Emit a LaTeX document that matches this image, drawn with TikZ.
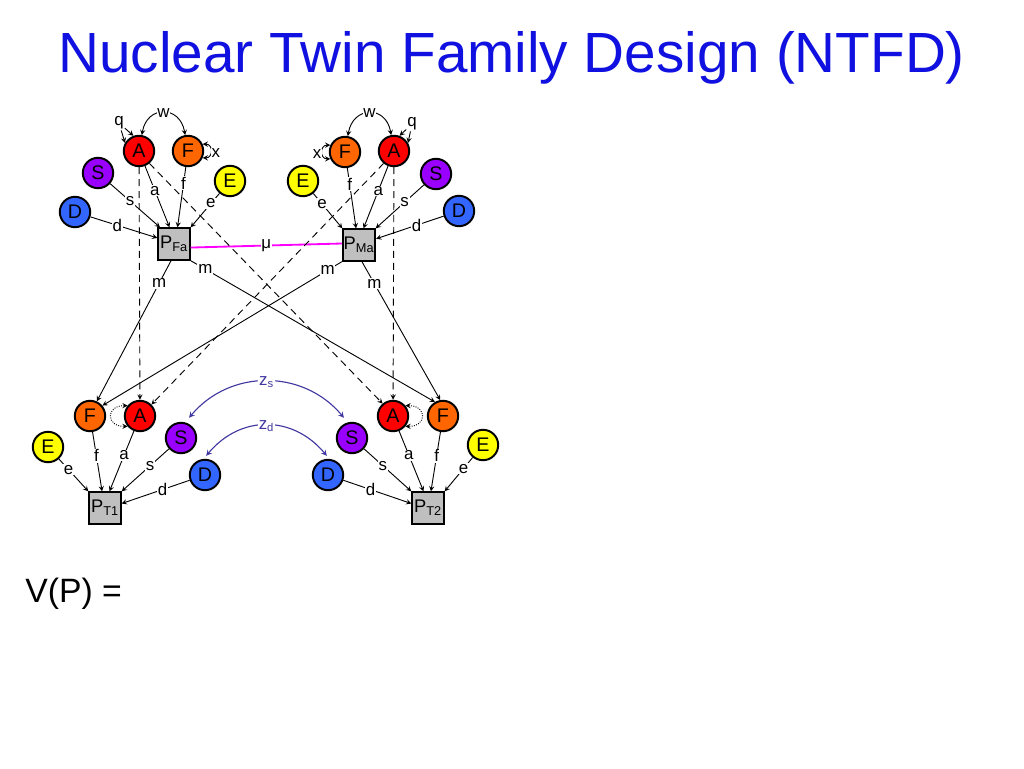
\documentclass[tikz,border=0pt]{standalone}
\usepackage{fontspec}
\setmainfont{Liberation Sans}
\usetikzlibrary{calc,positioning}
\definecolor{aclr}{RGB}{255,0,0}
\definecolor{fclr}{RGB}{255,102,0}
\definecolor{sclr}{RGB}{153,0,255}
\definecolor{eclr}{RGB}{255,255,0}
\definecolor{dclr}{RGB}{51,102,255}
\definecolor{zclr}{RGB}{64,56,160}
\definecolor{muclr}{RGB}{255,0,255}
\definecolor{titleclr}{RGB}{16,16,224}
\tikzset{factor/.style={%
        circle,
        minimum size=7.6mm,inner sep=0pt,
        line width=1.4pt,
        font=\fontsize{14}{16}\selectfont,
        draw}}
\tikzset{pheno/.style={%
        rectangle,
        minimum size=7.8mm,inner sep=0.5pt,
        line width=1.5pt,
        fill=black!25,
        font=\fontsize{13}{15}\selectfont,
        draw}}
\tikzset{link/.style={line width=0.65pt,>=stealth}}
\tikzset{shared/.style={link,dash pattern=on 5pt off 3.5pt}}
\tikzset{lbl/.style={fill=white,inner sep=0.6pt,text=black,font=\fontsize{12}{14}\selectfont}}
\tikzset{zlink/.style={line width=0.8pt,zclr,>=stealth}}

\begin{document}
\begin{tikzpicture}[x=0.25mm,y=0.25mm]
  \useasboundingbox (0,0) rectangle (1024,-768);
  \node [anchor=base west,inner sep=0pt,text=titleclr,font=\fontsize{40.3}{46}\selectfont] (title) at (58,-72) {Nuclear Twin Family Design (NTFD)};
  % father
  \node [factor,fill=aclr] (AF) at (139,-151) {A};
  \node [factor,fill=fclr] (FF) at (188,-151) {F};
  \node [factor,fill=sclr] (SF) at (98,-173) {S};
  \node [factor,fill=eclr] (EF) at (230,-181) {E};
  \node [factor,fill=dclr] (DF) at (75,-212) {D};
  \node [pheno] (PFa) at (174,-244) {P\textsubscript{Fa}};
  % mother
  \node [factor,fill=fclr] (FM) at (345,-152) {F};
  \node [factor,fill=aclr] (AM) at (394,-151) {A};
  \node [factor,fill=eclr] (EM) at (303,-181) {E};
  \node [factor,fill=sclr] (SM) at (436,-174) {S};
  \node [factor,fill=dclr] (DM) at (459,-211) {D};
  \node [pheno] (PMa) at (359,-245) {P\textsubscript{Ma}};
  % twin 1
  \node [factor,fill=fclr] (F1) at (90,-416) {F};
  \node [factor,fill=aclr] (A1) at (140,-416) {A};
  \node [factor,fill=eclr] (E1) at (48,-447) {E};
  \node [factor,fill=sclr] (S1) at (181,-438) {S};
  \node [factor,fill=dclr] (D1) at (205,-475) {D};
  \node [pheno] (PT1) at (105,-508) {P\textsubscript{T1}};
  % twin 2
  \node [factor,fill=aclr] (A2) at (393,-416) {A};
  \node [factor,fill=fclr] (F2) at (443,-416) {F};
  \node [factor,fill=eclr] (E2) at (483,-445) {E};
  \node [factor,fill=sclr] (S2) at (352,-438) {S};
  \node [factor,fill=dclr] (D2) at (328,-475) {D};
  \node [pheno] (PT2) at (428,-508) {P\textsubscript{T2}};
  \node [lbl] (qF) at (119,-123) {q};
  \node [lbl] (qM) at (412,-124) {q};
  \node [anchor=base west,inner sep=0pt,font=\fontsize{24}{28}\selectfont] (vp) at (25,-602) {V(P) =};

  \draw [link,->] (qF) -- (AF.110);
  \draw [link,->] (qF) -- (AF.150);
  \draw [link,->] (qM) -- (AM.70);
  \draw [link,->] (qM) -- (AM.30);
  \draw [link,<->] (AF.80) to [out=80,in=100,looseness=1.8] node [lbl] {w} (FF.100);
  \draw [link,<->] (FM.80) to [out=80,in=100,looseness=1.8] node [lbl] {w} (AM.100);
  \draw [link,<->] (FF.25) to [out=0,in=0,looseness=2] node [lbl,anchor=west,pos=0.6] {x} (FF.-25);
  \draw [link,<->] (FM.155) to [out=180,in=180,looseness=2] node [lbl,anchor=east,pos=0.6] {x} (FM.205);
  \draw [link,<->,densely dotted] (A1.140) to [out=180,in=180,looseness=2.7] (A1.220);
  \draw [link,<->,densely dotted] (A2.40) to [out=0,in=0,looseness=2.7] (A2.-40);

  \draw [link,->] (DF) -- node [lbl,pos=0.4] {d} (PFa.160);
  \draw [link,->] (SF) -- node [lbl,pos=0.4] {s} (PFa.130);
  \draw [link,->] (AF) -- node [lbl,pos=0.4] {a} (PFa.105);
  \draw [link,->] (FF) -- node [lbl,pos=0.27] {f} (PFa.78);
  \draw [link,->] (EF) -- node [lbl,pos=0.3] {e} (PFa.45);

  \draw [link,->] (DM) -- node [lbl,pos=0.4] {d} (PMa.20);
  \draw [link,->] (SM) -- node [lbl,pos=0.4] {s} (PMa.45);
  \draw [link,->] (AM) -- node [lbl,pos=0.4] {a} (PMa.75);
  \draw [link,->] (FM) -- node [lbl,pos=0.27] {f} (PMa.100);
  \draw [link,->] (EM) -- node [lbl,pos=0.3] {e} (PMa.135);

  \draw [line width=1.3pt,muclr] (PFa.-12) -- node [lbl] {μ} (PMa.175);

  \draw [shared,->] (AF) -- (A1);
  \draw [shared,->] (AF.-50) -- (A2.130);
  \draw [shared,->] (AM.-130) -- (A1.45);
  \draw [shared,->] (AM) -- (A2);
  \draw [link,->] (PFa.-100) -- node [lbl,pos=0.16] {m} (F1.65);
  \draw [link,->] (PFa.south east) -- node [lbl,pos=0.06] {m} (F2.120);
  \draw [link,->] (PMa.south west) -- node [lbl,pos=0.06] {m} (F1.40);
  \draw [link,->] (PMa.-80) -- node [lbl,pos=0.16] {m} (F2.100);

  \draw [link,->] (E1) -- node [lbl,pos=0.33] {e} (PT1.135);
  \draw [link,->] (F1) -- node [lbl,pos=0.4] {f} (PT1.100);
  \draw [link,->] (A1) -- node [lbl,pos=0.4] {a} (PT1.75);
  \draw [link,->] (S1) -- node [lbl,pos=0.4] {s} (PT1.45);
  \draw [link,->] (D1) -- node [lbl,pos=0.4] {d} (PT1.15);

  \draw [link,->] (E2) -- node [lbl,pos=0.33] {e} (PT2.45);
  \draw [link,->] (F2) -- node [lbl,pos=0.4] {f} (PT2.80);
  \draw [link,->] (A2) -- node [lbl,pos=0.4] {a} (PT2.105);
  \draw [link,->] (S2) -- node [lbl,pos=0.4] {s} (PT2.135);
  \draw [link,->] (D2) -- node [lbl,pos=0.4] {d} (PT2.165);

  \draw [zlink,<->,shorten <=1.5mm,shorten >=1.5mm] (S1.75) to [out=50,in=130,looseness=1.1] node [lbl,text=zclr] {z\textsubscript{s}} (S2.105);
  \draw [zlink,<->,shorten <=1mm,shorten >=1mm] (D1.95) to [out=50,in=130,looseness=1.17] node [lbl,text=zclr] {z\textsubscript{d}} (D2.85);
\end{tikzpicture}
\end{document}
